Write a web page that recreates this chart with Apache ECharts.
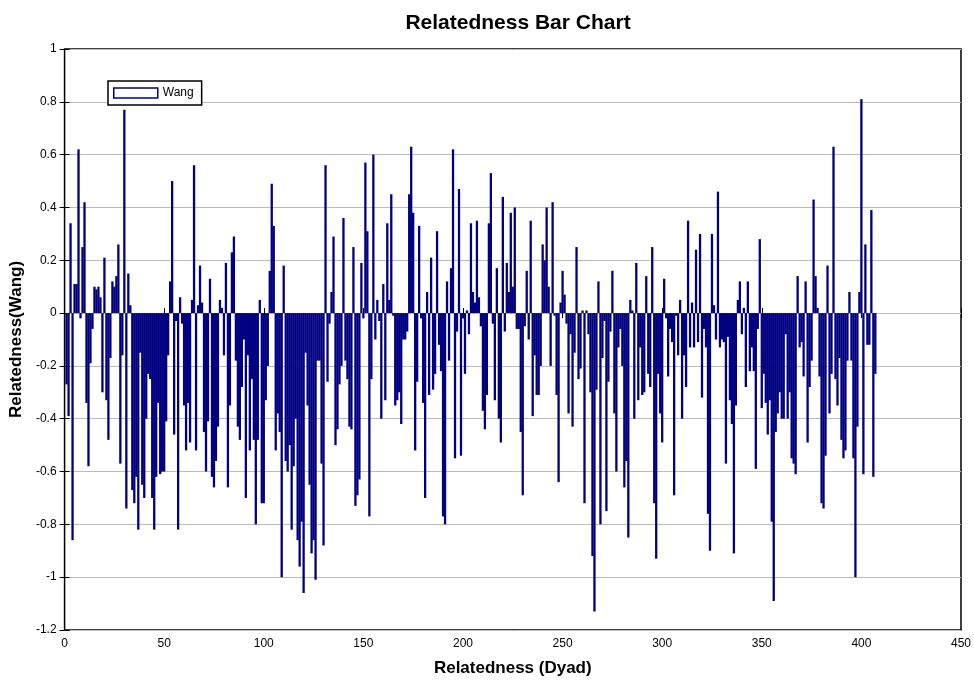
<!DOCTYPE html>
<html>
<head>
<meta charset="utf-8">
<script src="https://cdn.jsdelivr.net/npm/echarts@6/dist/echarts.min.js"></script>
<style>
  html, body { margin: 0; padding: 0; background: #fff; }
  #chart { width: 974px; height: 682px; }
</style>
</head>
<body>
<div id="chart"></div>
<script>
// relatedness (Wang) per dyad
var relatedness = [
  -0.27, -0.39, 0.34, -0.86, 0.11, 0.11, 0.62, -0.02, 0.25, 0.42,
  -0.34, -0.58, -0.19, -0.06, 0.10, 0.09, 0.10, 0.06, -0.30, 0.21,
  -0.33, -0.48, -0.17, 0.12, 0.10, 0.14, 0.26, -0.57, -0.16, 0.77,
  -0.74, 0.15, 0.03, -0.67, -0.72, -0.62, -0.82, -0.15, -0.65, -0.70,
  -0.40, -0.23, -0.25, -0.70, -0.82, -0.62, -0.34, -0.61, -0.60, -0.60,
  -0.41, -0.16, 0.12, 0.50, -0.46, -0.03, -0.82, 0.06, -0.04, -0.35,
  -0.52, -0.34, -0.49, 0.05, 0.56, -0.52, 0.03, 0.18, 0.04, -0.45,
  -0.60, -0.41, 0.13, -0.62, -0.66, -0.56, -0.43, 0.05, 0.02, -0.16,
  0.19, -0.66, -0.35, 0.23, 0.29, -0.18, -0.43, -0.48, -0.28, -0.10,
  -0.70, -0.16, -0.52, -0.25, -0.48, -0.80, -0.48, 0.05, -0.72, -0.72,
  -0.33, -0.20, 0.16, 0.49, 0.33, -0.52, -0.38, -0.45, -1.00, 0.18,
  -0.56, -0.60, -0.50, -0.82, -0.58, -0.40, -0.86, -0.96, -0.79, -1.06,
  -0.15, -0.35, -0.65, -0.91, -0.86, -1.01, -0.18, -0.18, -0.57, -0.88,
  0.56, -0.26, -0.04, 0.08, 0.29, -0.50, -0.44, -0.27, -0.20, 0.36,
  -0.18, -0.25, -0.43, -0.44, 0.25, -0.73, -0.69, -0.63, 0.19, -0.02,
  0.57, 0.31, -0.77, -0.25, 0.60, -0.10, 0.05, -0.03, -0.40, 0.11,
  -0.33, 0.34, 0.05, 0.45, -0.01, -0.35, -0.33, -0.30, -0.42, -0.10,
  -0.10, -0.07, 0.45, 0.63, 0.38, -0.52, -0.26, 0.33, -0.02, -0.34,
  -0.70, 0.08, -0.31, 0.21, -0.29, -0.23, 0.31, -0.12, -0.22, -0.77,
  -0.80, 0.12, -0.18, 0.17, 0.62, -0.55, -0.07, 0.47, -0.54, -0.02,
  -0.23, 0.01, -0.08, 0.34, 0.08, 0.04, 0.35, 0.06, -0.05, -0.37,
  -0.44, -0.31, 0.34, 0.53, -0.04, -0.33, 0.17, -0.40, -0.49, 0.44,
  -0.07, 0.19, 0.08, 0.38, 0.10, 0.40, -0.06, -0.06, -0.45, -0.69,
  -0.05, 0.16, -0.10, 0.35, -0.39, -0.16, -0.31, -0.31, -0.20, 0.26,
  0.20, 0.40, 0.10, -0.20, 0.42, -0.01, -0.31, -0.64, 0.04, 0.16,
  0.07, -0.04, -0.38, -0.08, -0.43, -0.15, 0.25, -0.25, -0.21, 0.01,
  -0.72, 0.01, -0.08, -0.30, -0.92, -1.13, -0.29, 0.12, -0.80, -0.17,
  -0.03, -0.75, -0.26, -0.07, 0.16, -0.38, -0.60, -0.13, -0.06, -0.20,
  -0.66, -0.56, -0.85, 0.05, 0.01, -0.40, 0.19, -0.33, -0.13, -0.31,
  -0.30, 0.14, -0.23, -0.28, 0.25, -0.72, -0.93, -0.23, -0.38, -0.49,
  0.13, -0.02, -0.24, -0.06, -0.11, -0.69, -0.01, -0.16, 0.05, -0.40,
  -0.16, -0.28, 0.35, -0.13, 0.04, -0.13, 0.24, -0.11, 0.30, -0.32,
  -0.06, -0.13, -0.76, -0.90, 0.30, 0.03, -0.10, 0.46, -0.13, -0.10,
  -0.11, -0.57, -0.09, -0.33, -0.42, -0.91, -0.35, 0.05, 0.12, -0.08,
  0.02, -0.28, 0.12, -0.22, -0.13, -0.22, -0.59, -0.06, 0.28, -0.36,
  -0.23, -0.34, -0.46, -0.33, -0.79, -1.09, -0.45, -0.38, -0.30, -0.40,
  -0.40, -0.08, -0.40, -0.30, -0.55, -0.57, -0.61, 0.14, -0.13, -0.11,
  -0.24, 0.12, -0.49, -0.28, -0.18, 0.43, 0.14, 0.02, -0.24, -0.72,
  -0.74, -0.54, 0.18, -0.38, -0.23, 0.63, -0.25, -0.35, -0.17, -0.48,
  -0.55, -0.52, -0.18, 0.08, -0.18, -0.55, -1.00, -0.43, 0.08, 0.81,
  -0.61, 0.26, -0.12, -0.12, 0.39, -0.62, -0.23
]
// dyad numbers 1..n
var dyad = []
for (var i = 0; i < relatedness.length; i++) dyad.push(i + 1)

var xTicks = { min: 0, max: 450, step: 50 }
var yTicks = { min: -1.2, max: 1, step: 0.2 }

var font = 'Liberation Sans, Arial, sans-serif'
var chart = echarts.init(document.getElementById('chart'))

var ticksOnly = {
  show: true,
  axisLine: { show: false },
  axisTick: { show: true, inside: true, length: 5, lineStyle: { color: '#000', width: 1 } },
  axisLabel: { show: false },
  splitLine: { show: false }
}

chart.setOption({
  animation: false,
  backgroundColor: '#fff',
  title: {
    text: 'Relatedness Bar Chart',
    left: 513,
    textAlign: 'center',
    top: 8,
    textStyle: { fontFamily: font, fontSize: 21, fontWeight: 'bold', color: '#000' }
  },
  legend: {
    left: 108,
    top: 81,
    orient: 'vertical',
    padding: [6, 8, 6, 5],
    itemWidth: 44,
    itemHeight: 10,
    itemGap: 6,
    borderColor: '#000',
    borderWidth: 1.5,
    backgroundColor: '#fff',
    textStyle: { fontFamily: font, fontSize: 12, color: '#000' },
    data: [{
      name: 'Wang',
      icon: 'rect',
      itemStyle: { color: '#fff', borderColor: '#000080', borderWidth: 1.5 }
    }]
  },
  grid: {
    left: 63,
    top: 49,
    width: 900,
    height: 592,
    show: true,
    borderColor: '#000',
    borderWidth: 1.5,
    backgroundColor: '#fff'
  },
  xAxis: [{
    type: 'value',
    min: xTicks.min,
    max: xTicks.max,
    interval: xTicks.step,
    position: 'bottom',
    name: 'Relatedness (Dyad)',
    nameLocation: 'middle',
    nameGap: 30,
    nameTextStyle: { fontFamily: font, fontSize: 17, fontWeight: 'bold', color: '#000' },
    axisLine: { show: false },
    axisTick: { inside: true, length: 5, lineStyle: { color: '#000' } },
    axisLabel: { fontFamily: font, fontSize: 12, color: '#000', margin: 8 },
    splitLine: { show: false }
  }, Object.assign({
    type: 'value',
    min: xTicks.min,
    max: xTicks.max,
    interval: xTicks.step,
    position: 'top'
  }, ticksOnly)],
  yAxis: [{
    type: 'value',
    min: yTicks.min,
    max: yTicks.max,
    interval: yTicks.step,
    position: 'left',
    name: 'Relatedness(Wang)',
    nameLocation: 'middle',
    nameGap: 36,
    nameRotate: 90,
    nameTextStyle: { fontFamily: font, fontSize: 17, fontWeight: 'bold', color: '#000' },
    axisLine: { show: false },
    axisTick: { inside: true, length: 5, lineStyle: { color: '#000' } },
    axisLabel: {
      fontFamily: font, fontSize: 12, color: '#000', margin: 8,
      formatter: function (v) { return String(Math.round(v * 10) / 10) }
    },
    splitLine: { show: true, lineStyle: { color: '#bcbcbc', width: 1 } }
  }, Object.assign({
    type: 'value',
    min: yTicks.min,
    max: yTicks.max,
    interval: yTicks.step,
    position: 'right'
  }, ticksOnly)],
  series: [{
    name: 'Wang',
    type: 'bar',
    xAxisIndex: 0,
    yAxisIndex: 0,
    barWidth: 2.3,
    itemStyle: { color: '#000080' },
    data: dyad.map(function (d, i) { return [d, relatedness[i]] })
  }]
})
</script>
</body>
</html>
